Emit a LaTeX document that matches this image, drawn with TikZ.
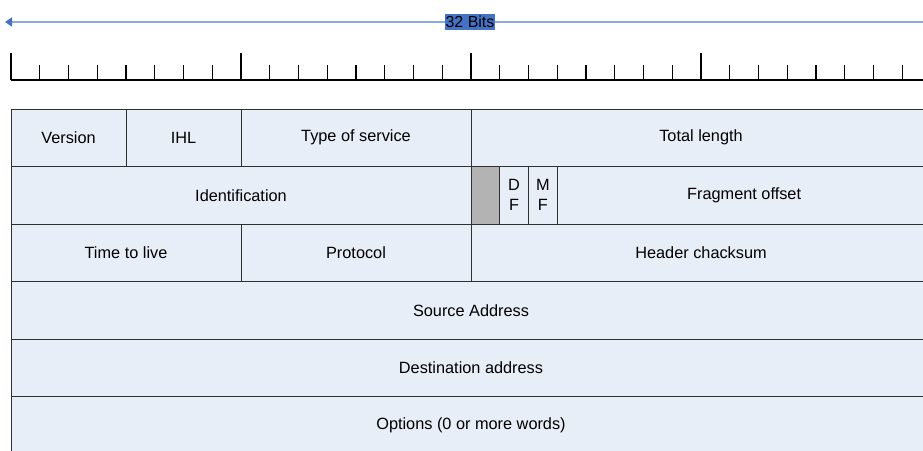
\documentclass[tikz,border=0pt]{standalone}
\usepackage{fontspec}
\setmainfont{Liberation Sans}
\usetikzlibrary{arrows.meta, positioning}
\definecolor{fieldbg}{HTML}{E8EEF8}
\definecolor{fieldline}{HTML}{303030}
\definecolor{bitsblue}{HTML}{4472C4}
\definecolor{bitsline}{HTML}{8EA9DB}
\definecolor{reserved}{HTML}{B3B3B3}
% width of one bit
\def\bw{28.75}

\begin{document}
\begin{tikzpicture}[x=1pt, y=-1pt,
  node distance=0pt,
  field/.style={draw=fieldline, fill=fieldbg, line width=1pt, outer sep=0pt,
                inner sep=0pt, minimum height=57.5pt, align=center,
                font=\fontsize{16.3}{20}\selectfont},
  bits/.style={minimum width=#1*\bw},
  bitslbl/.style={fill=bitsblue, text=black, inner xsep=0.5pt, inner ysep=2pt,
                  font=\fontsize{16}{18}\selectfont},
  tick/.style={line width=1.3pt}]
\useasboundingbox (0,0) rectangle (923,450);
\clip (0,0) rectangle (923,450);
% length arrow
\coordinate (bitsl) at (5,22);
\coordinate (bitsr) at (935,22);
\draw[bitsline, line width=1.6pt,
      {Triangle[length=7pt, width=9pt, color=bitsblue]}-{Triangle[length=7pt, width=9pt, color=bitsblue]}]
  (bitsl) -- node[bitslbl] (bits) {32 Bits} (bitsr);
% ruler
\draw[tick] (11,80) -- (931,80);
\foreach \i in {1,...,31} \draw[tick] ({11+\i*\bw},80) -- ++(0,-15);
\foreach \i in {0,8,...,32} \draw[tick] ({11+\i*\bw},80) -- ++(0,-27);
% header fields
\node[field, bits=4, anchor=north west] (ver) at (11,109) {Version};
\node[field, bits=4, right=of ver] (ihl) {IHL};
\node[field, bits=8, right=of ihl] (tos) {Type of service};
\node[field, bits=16, right=of tos] (len) {Total length};
\node[field, bits=16, below=of ver.south west, anchor=north west] (ident) {Identification};
\node[field, bits=1, right=of ident, fill=reserved] (rsv) {};
\node[field, bits=1, right=of rsv] (df) {D\\F};
\node[field, bits=1, right=of df] (mf) {M\\F};
\node[field, bits=13, right=of mf] (frag) {Fragment offset};
\node[field, bits=8, below=of ident.south west, anchor=north west] (ttl) {Time to live};
\node[field, bits=8, right=of ttl] (proto) {Protocol};
\node[field, bits=16, right=of proto] (csum) {Header chacksum};
\node[field, bits=32, below=of ttl.south west, anchor=north west] (src) {Source Address};
\node[field, bits=32, below=of src] (dst) {Destination address};
\node[field, bits=32, below=of dst] (opt) {Options (0 or more words)};
\end{tikzpicture}
\end{document}
